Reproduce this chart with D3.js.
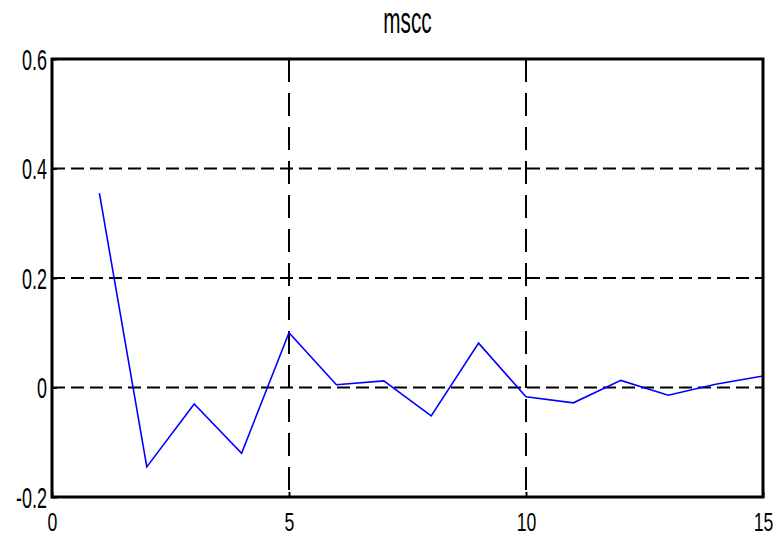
<!DOCTYPE html>
<html>
<head>
<meta charset="utf-8">
<script src="https://cdn.jsdelivr.net/npm/d3@7"></script>
<style>
  body { margin: 0; background: #fff; }
  svg { display: block; }
</style>
</head>
<body>
<svg id="chart" width="773" height="537"></svg>
<script>
const titleText = "mscc";
const xValues = [1, 2, 3, 4, 5, 6, 7, 8, 9, 10, 11, 12, 13, 14, 15];
const yValues = [0.355, -0.145, -0.03, -0.12, 0.10, 0.005, 0.012, -0.052, 0.081, -0.017, -0.028, 0.013, -0.014, 0.006, 0.021];
const xTicks = [0, 5, 10, 15];
const yTicks = [-0.2, 0, 0.2, 0.4, 0.6];
const yTickLabels = ["-0.2", "0", "0.2", "0.4", "0.6"];

const width = 773, height = 537,
  margin = {top: 59, right: 10, bottom: 40, left: 52};

const svg = d3.select("#chart");
const x = d3.scaleLinear().domain([0, 15]).range([margin.left, width - margin.right]);
const y = d3.scaleLinear().domain([-0.2, 0.6]).range([height - margin.bottom, margin.top]);

const font = "'Liberation Sans', Arial, sans-serif";

// grid lines (dashed, black)
svg.append("g")
  .selectAll("line")
  .data(xTicks.slice(1, -1))
  .join("line")
  .attr("x1", d => x(d)).attr("x2", d => x(d))
  .attr("y1", y(0.6)).attr("y2", y(-0.2))
  .attr("stroke", "#000").attr("stroke-width", 2)
  .attr("stroke-dasharray", "23,11");

svg.append("g")
  .selectAll("line")
  .data(yTicks.slice(1, -1))
  .join("line")
  .attr("x1", x(0)).attr("x2", x(15))
  .attr("y1", d => y(d)).attr("y2", d => y(d))
  .attr("stroke", "#000").attr("stroke-width", 2)
  .attr("stroke-dasharray", "13,6");

// axes
const xAxis = svg.append("g")
  .attr("transform", `translate(0,${y(-0.2)})`)
  .call(d3.axisBottom(x).tickValues(xTicks).tickSizeInner(-5).tickSizeOuter(0).tickFormat(d3.format("d")));

const yAxis = svg.append("g")
  .attr("transform", `translate(${x(0)},0)`)
  .call(d3.axisLeft(y).tickValues(yTicks).tickSizeInner(-5).tickSizeOuter(0)
    .tickFormat((d, i) => yTickLabels[i]));

[xAxis, yAxis].forEach(a => {
  a.select(".domain").remove();
  a.selectAll(".tick line").attr("stroke", "#000").attr("stroke-width", 2);
  a.selectAll(".tick text")
    .attr("fill", "#000")
    .style("font-family", font);
});

xAxis.selectAll(".tick text")
  .style("font-size", "26px")
  .attr("y", 0).attr("dy", null)
  .attr("transform", "translate(0,34) scale(0.68,1)");

yAxis.selectAll(".tick text")
  .style("font-size", "29px")
  .attr("x", 0).attr("dy", null)
  .attr("transform", "translate(-5,10) scale(0.62,1)");

// data line
const line = d3.line().x((d, i) => x(xValues[i])).y(d => y(d));
svg.append("path")
  .datum(yValues)
  .attr("fill", "none")
  .attr("stroke", "#0000ff")
  .attr("stroke-width", 1.6)
  .attr("d", line);

// frame
svg.append("rect")
  .attr("x", x(0)).attr("y", y(0.6))
  .attr("width", x(15) - x(0)).attr("height", y(-0.2) - y(0.6))
  .attr("fill", "none").attr("stroke", "#000").attr("stroke-width", 3);

// title
svg.append("text")
  .attr("transform", `translate(${(x(0) + x(15)) / 2},33) scale(0.56,1)`)
  .attr("text-anchor", "middle")
  .style("font-family", font)
  .style("font-size", "37px")
  .text(titleText);
</script>
</body>
</html>
